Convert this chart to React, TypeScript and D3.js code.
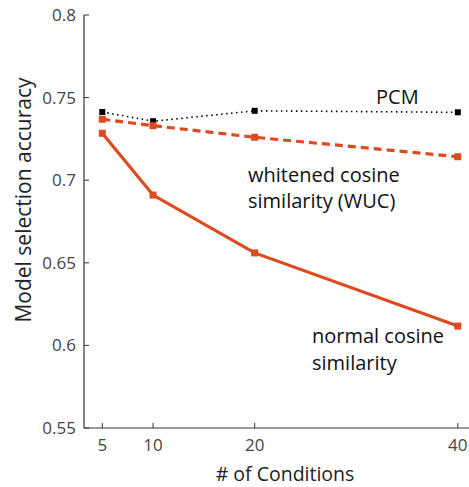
import { useMemo } from "react";
import * as d3 from "d3";

const conditions = [5, 10, 20, 40];
const pcm = [0.7413, 0.7357, 0.742, 0.7411];
const wuc = [0.7369, 0.733, 0.726, 0.7142];
const normalCos = [0.7284, 0.691, 0.656, 0.6117];
const yTicks = [0.55, 0.6, 0.65, 0.7, 0.75, 0.8];

const WIDTH = 469;
const HEIGHT = 487;
const RED = "#DC4A1F";
const FONT = "'Open Sans', 'Noto Sans', sans-serif";

const App = () => {
    const x = useMemo(() => d3.scaleLinear().domain([3.2, 41.1]).range([84, 469]), []);
    const y = useMemo(() => d3.scaleLinear().domain([0.55, 0.8]).range([428, 15]), []);

    const line = d3
        .line<number>()
        .x((_, i) => x(conditions[i]))
        .y(d => y(d));

    return (
        <svg
            width={WIDTH}
            height={HEIGHT}
            style={{ position: "absolute", left: 0, top: 0, background: "#fff" }}
            fontFamily={FONT}
        >
            {/* axes */}
            <line x1={x(3.2)} x2={x(3.2)} y1={y(0.8)} y2={y(0.55)} stroke="#333" strokeWidth={1.2} />
            <line x1={x(3.2)} x2={WIDTH} y1={y(0.55)} y2={y(0.55)} stroke="#333" strokeWidth={1.2} />
            {yTicks.map(t => (
                <g key={t}>
                    <line x1={x(3.2)} x2={x(3.2) + 5} y1={y(t)} y2={y(t)} stroke="#333" strokeWidth={1} />
                    <text x={x(3.2) - 8} y={y(t)} dy="0.35em" textAnchor="end" fontSize={17} fill="#444">
                        {t === 0.7 || t === 0.8 || t === 0.6 ? t.toFixed(1) : t.toFixed(2)}
                    </text>
                </g>
            ))}
            {conditions.map(c => (
                <g key={c}>
                    <line x1={x(c)} x2={x(c)} y1={y(0.55)} y2={y(0.55) - 5} stroke="#333" strokeWidth={1} />
                    <text x={x(c)} y={y(0.55) + 23} textAnchor="middle" fontSize={17} fill="#444">
                        {c}
                    </text>
                </g>
            ))}
            <text x={285} y={481} textAnchor="middle" fontSize={19.5} fill="#222">
                # of Conditions
            </text>
            <text
                transform={`translate(31, 200) rotate(-90)`}
                textAnchor="middle"
                fontSize={21}
                fill="#222"
            >
                Model selection accuracy
            </text>

            {/* series */}
            <path d={line(pcm) ?? ""} fill="none" stroke="#000" strokeWidth={1.6} strokeDasharray="1.5 3.5" />
            {pcm.map((v, i) => (
                <rect key={i} x={x(conditions[i]) - 3} y={y(v) - 3} width={6} height={6} fill="#000" />
            ))}
            <path d={line(wuc) ?? ""} fill="none" stroke={RED} strokeWidth={3.2} strokeDasharray="8 5" />
            {wuc.map((v, i) => (
                <rect key={i} x={x(conditions[i]) - 3.5} y={y(v) - 3.5} width={7} height={7} fill={RED} />
            ))}
            <path d={line(normalCos) ?? ""} fill="none" stroke={RED} strokeWidth={3.2} />
            {normalCos.map((v, i) => (
                <rect key={i} x={x(conditions[i]) - 3.5} y={y(v) - 3.5} width={7} height={7} fill={RED} />
            ))}

            {/* labels */}
            <text x={376} y={104} fontSize={20} fill="#111">PCM</text>
            <text x={248} y={182} fontSize={20} fill="#111">whitened cosine</text>
            <text x={248} y={208} fontSize={20} fill="#111">similarity (WUC)</text>
            <text x={312} y={343} fontSize={20} fill="#111">normal cosine</text>
            <text x={312} y={370} fontSize={20} fill="#111">similarity</text>
        </svg>
    );
};

export default App;
